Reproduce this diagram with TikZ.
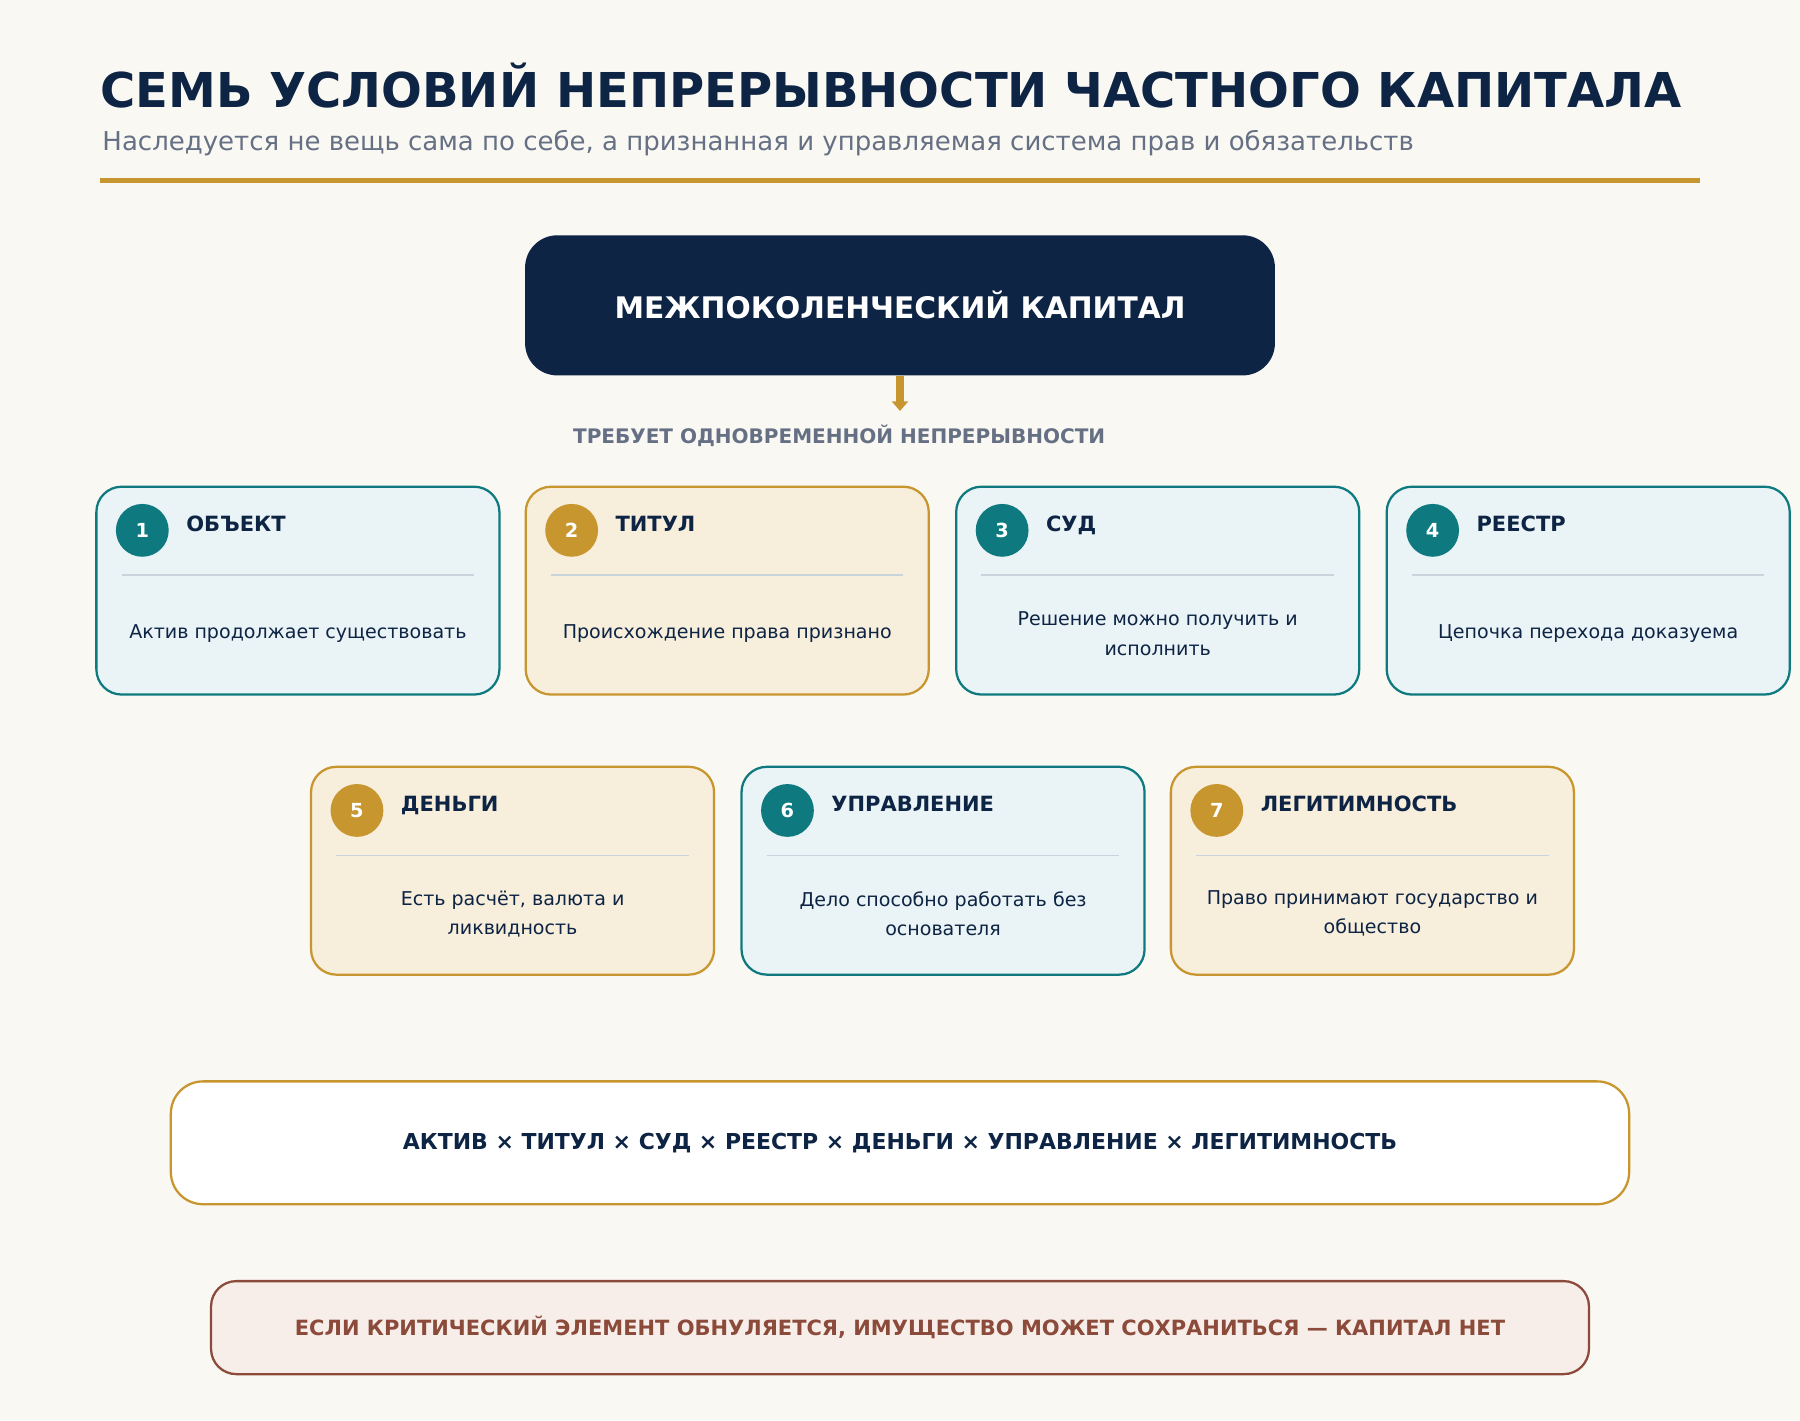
\documentclass[tikz,border=0pt]{standalone}
\usepackage{fontspec}
\setmainfont{DejaVu Sans}
\usetikzlibrary{positioning,calc,arrows.meta}

\definecolor{navy}{HTML}{0D2444}
\definecolor{teal}{HTML}{0E7A80}
\definecolor{gold}{HTML}{C8962E}
\definecolor{tealfill}{HTML}{EAF3F5}
\definecolor{goldfill}{HTML}{F7EEDC}
\definecolor{paper}{HTML}{FAF8F3}
\definecolor{greytext}{HTML}{667085}
\definecolor{brick}{HTML}{8B4A3A}
\definecolor{brickfill}{HTML}{F7EEE9}
\definecolor{rule}{HTML}{C9D3DC}

\tikzset{
  card/.style={draw=#1,fill=#1fill,line width=1.4pt,rounded corners=0.55cm,
    minimum width=8.775cm,minimum height=4.525cm},
  badge/.style={circle,fill=#1,minimum size=1.15cm,inner sep=0pt,
    text=white,font=\bfseries\fontsize{12}{12}\selectfont},
  cardtitle/.style={text=navy,inner sep=0pt,font=\bfseries\fontsize{13}{13}\selectfont},
  cardbody/.style={text=navy,align=center,
    font=\fontsize{11.8}{18}\selectfont},
  sep/.style={draw=rule,line width=0.9pt}
}

% one condition card
\newcommand\condcard[7]{%
  \node[card=#5] (#1) at (#2,#3) {};
  \node[badge=#5] (#1n) at ($(#1.north west)+(41,39)$) {#4};
  \node[cardtitle,anchor=base west] (#1t) at ($(#1.north west)+(79,40)$) {#6};
  \draw[sep] ($(#1.north west)+(23,78)$) -- ($(#1.north east)+(-23,78)$);
  \node[cardbody] (#1b) at ($(#1.north)+(0,129)$) {#7};
}

\begin{document}
\begin{tikzpicture}[x=0.025cm,y=-0.025cm]
  \fill[paper] (0,0) rectangle (1568,1237);
  \useasboundingbox (0,0) rectangle (1568,1237);

  % header
  \node[anchor=base west,inner sep=0pt,text=navy,font=\bfseries\fontsize{29.75}{29.75}\selectfont]
    (title) at (87,94) {СЕМЬ УСЛОВИЙ НЕПРЕРЫВНОСТИ ЧАСТНОГО КАПИТАЛА};
  \node[anchor=base west,inner sep=0pt,text=greytext,font=\fontsize{16.1}{16.1}\selectfont]
    (subtitle) at (89,131) {Наследуется не вещь сама по себе, а признанная и управляемая система прав и обязательств};
  \draw[gold,line width=3pt] (87,157) -- (1481,157);

  % main box
  \node[fill=navy,rounded corners=0.7cm,minimum width=16.325cm,minimum height=3.05cm,
    text=white,font=\bfseries\fontsize{18.4}{18.4}\selectfont] (capital) at (784,266)
    {МЕЖПОКОЛЕНЧЕСКИЙ КАПИТАЛ};
  \coordinate (req) at (784,358);
  \draw[gold,line width=4.5pt,-{Triangle[width=10pt,length=6pt]}] (capital.south) -- (req);
  \node[text=greytext,font=\bfseries\fontsize{12.4}{12.4}\selectfont] (requires) at (731,380)
    {ТРЕБУЕТ ОДНОВРЕМЕННОЙ НЕПРЕРЫВНОСТИ};

  % conditions
  \condcard{object}{259.5}{514.5}{1}{teal}{ОБЪЕКТ}{Актив продолжает существовать}
  \condcard{titul}{633.5}{514.5}{2}{gold}{ТИТУЛ}{Происхождение права признано}
  \condcard{court}{1008.5}{514.5}{3}{teal}{СУД}{Решение можно получить и\\исполнить}
  \condcard{registry}{1383.5}{514.5}{4}{teal}{РЕЕСТР}{Цепочка перехода доказуема}
  \condcard{money}{446.5}{758.5}{5}{gold}{ДЕНЬГИ}{Есть расчёт, валюта и\\ликвидность}
  \condcard{govern}{821.5}{758.5}{6}{teal}{УПРАВЛЕНИЕ}{Дело способно работать без\\основателя}
  \condcard{legit}{1195.5}{758.5}{7}{gold}{ЛЕГИТИМНОСТЬ}{Право принимают государство и\\общество}

  % formula and conclusion
  \node[draw=gold,fill=white,line width=1.4pt,rounded corners=0.7cm,minimum width=31.75cm,
    minimum height=2.675cm,text=navy,font=\bfseries\fontsize{13.6}{13.6}\selectfont]
    (formula) at (784,995.5)
    {АКТИВ × ТИТУЛ × СУД × РЕЕСТР × ДЕНЬГИ × УПРАВЛЕНИЕ × ЛЕГИТИМНОСТЬ};
  \node[draw=brick,fill=brickfill,line width=1.4pt,rounded corners=0.55cm,minimum width=30cm,
    minimum height=2.025cm,text=brick,font=\bfseries\fontsize{13}{13}\selectfont]
    (verdict) at (784,1156.5)
    {ЕСЛИ КРИТИЧЕСКИЙ ЭЛЕМЕНТ ОБНУЛЯЕТСЯ, ИМУЩЕСТВО МОЖЕТ СОХРАНИТЬСЯ — КАПИТАЛ НЕТ};
\end{tikzpicture}
\end{document}
